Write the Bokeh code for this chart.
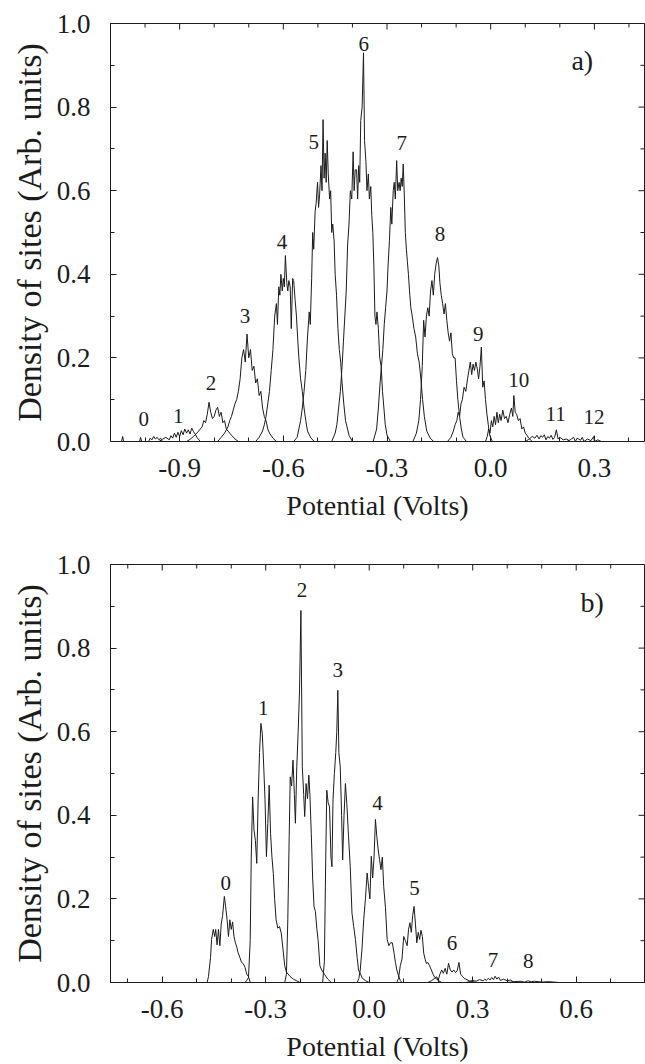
from bokeh.plotting import figure
from bokeh.models import FixedTicker, PrintfTickFormatter, Range1d
from bokeh.layouts import column
from bokeh.embed import file_html
from bokeh.resources import INLINE
from bokeh.core.properties import value

FONT = "Liberation Serif"
INK = "#1c1c1c"

# ---------------- data: panel a), (potential V, density) per peak ----------------
A0 = [(-1.075, 0), (-1.068, 0), (-1.065, 0.012), (-1.062, 0), (-1.03, 0), (-1.016, 0), (-1.013, 0.01),
      (-1.01, 0), (-0.99, 0), (-0.985, 0.008), (-0.98, 0.004), (-0.975, 0.012), (-0.97, 0.006),
      (-0.965, 0.01), (-0.96, 0.004), (-0.955, 0.008), (-0.95, 0)]
A1 = [(-0.96, 0), (-0.95, 0.005), (-0.94, 0.01), (-0.93, 0.004), (-0.925, 0.014), (-0.92, 0.008),
      (-0.915, 0.02), (-0.91, 0.01), (-0.905, 0.022), (-0.90, 0.012), (-0.895, 0.026), (-0.89, 0.016),
      (-0.885, 0.03), (-0.88, 0.02), (-0.875, 0.028), (-0.87, 0.018), (-0.865, 0.032), (-0.86, 0.024),
      (-0.855, 0.018), (-0.85, 0.01), (-0.84, 0)]
A2 = [(-0.88, 0), (-0.87, 0.005), (-0.86, 0.012), (-0.85, 0.02), (-0.84, 0.03), (-0.835, 0.035),
      (-0.83, 0.05), (-0.825, 0.045), (-0.82, 0.065), (-0.815, 0.094), (-0.81, 0.07), (-0.805, 0.055),
      (-0.80, 0.06), (-0.795, 0.075), (-0.79, 0.082), (-0.785, 0.06), (-0.78, 0.07), (-0.775, 0.045),
      (-0.77, 0.05), (-0.765, 0.03), (-0.76, 0.025), (-0.75, 0.015), (-0.74, 0.006), (-0.73, 0)]
A3 = [(-0.79, 0), (-0.78, 0.01), (-0.77, 0.02), (-0.76, 0.035), (-0.755, 0.05), (-0.75, 0.06),
      (-0.745, 0.075), (-0.74, 0.09), (-0.735, 0.1), (-0.73, 0.12), (-0.725, 0.15), (-0.72, 0.2),
      (-0.715, 0.22), (-0.71, 0.19), (-0.705, 0.257), (-0.70, 0.2), (-0.695, 0.22), (-0.69, 0.17),
      (-0.685, 0.18), (-0.68, 0.14), (-0.675, 0.15), (-0.67, 0.11), (-0.665, 0.12), (-0.66, 0.08),
      (-0.655, 0.06), (-0.65, 0.05), (-0.645, 0.03), (-0.64, 0.02), (-0.63, 0.008), (-0.62, 0)]
A4 = [(-0.68, 0), (-0.67, 0.01), (-0.66, 0.025), (-0.655, 0.04), (-0.65, 0.06), (-0.645, 0.09),
      (-0.64, 0.12), (-0.635, 0.17), (-0.63, 0.22), (-0.625, 0.3), (-0.62, 0.33), (-0.617, 0.28),
      (-0.613, 0.37), (-0.61, 0.35), (-0.607, 0.4), (-0.603, 0.36), (-0.60, 0.39), (-0.597, 0.37),
      (-0.594, 0.445), (-0.59, 0.38), (-0.587, 0.36), (-0.584, 0.385), (-0.58, 0.37), (-0.577, 0.27),
      (-0.573, 0.39), (-0.57, 0.385), (-0.566, 0.34), (-0.562, 0.3), (-0.558, 0.24), (-0.555, 0.2),
      (-0.55, 0.15), (-0.545, 0.12), (-0.54, 0.08), (-0.535, 0.05), (-0.53, 0.025), (-0.52, 0.008),
      (-0.51, 0)]
A5 = [(-0.57, 0), (-0.56, 0.01), (-0.555, 0.03), (-0.55, 0.05), (-0.545, 0.08), (-0.54, 0.12),
      (-0.535, 0.17), (-0.53, 0.25), (-0.525, 0.31), (-0.522, 0.28), (-0.518, 0.39), (-0.515, 0.5),
      (-0.512, 0.46), (-0.508, 0.55), (-0.505, 0.57), (-0.501, 0.62), (-0.498, 0.56), (-0.495, 0.59),
      (-0.491, 0.66), (-0.488, 0.6), (-0.485, 0.77), (-0.482, 0.63), (-0.479, 0.69), (-0.476, 0.62),
      (-0.473, 0.72), (-0.47, 0.64), (-0.466, 0.58), (-0.463, 0.6), (-0.46, 0.5), (-0.457, 0.52),
      (-0.453, 0.48), (-0.45, 0.4), (-0.446, 0.35), (-0.442, 0.27), (-0.438, 0.22), (-0.434, 0.19),
      (-0.43, 0.14), (-0.425, 0.09), (-0.42, 0.05), (-0.41, 0.015), (-0.40, 0)]
A6 = [(-0.46, 0), (-0.45, 0.02), (-0.445, 0.04), (-0.44, 0.08), (-0.435, 0.12), (-0.43, 0.18),
      (-0.426, 0.24), (-0.422, 0.3), (-0.418, 0.36), (-0.414, 0.47), (-0.41, 0.52), (-0.406, 0.6),
      (-0.402, 0.58), (-0.398, 0.693), (-0.395, 0.6), (-0.392, 0.65), (-0.388, 0.65), (-0.385, 0.58),
      (-0.382, 0.66), (-0.379, 0.62), (-0.376, 0.768), (-0.372, 0.8), (-0.368, 0.93), (-0.365, 0.72),
      (-0.361, 0.67), (-0.358, 0.6), (-0.354, 0.64), (-0.351, 0.58), (-0.347, 0.61), (-0.344, 0.54),
      (-0.341, 0.5), (-0.338, 0.42), (-0.335, 0.3), (-0.332, 0.28), (-0.329, 0.31), (-0.325, 0.27),
      (-0.321, 0.2), (-0.317, 0.18), (-0.313, 0.12), (-0.309, 0.08), (-0.305, 0.04), (-0.30, 0.015),
      (-0.29, 0)]
A7 = [(-0.34, 0), (-0.33, 0.03), (-0.325, 0.08), (-0.32, 0.14), (-0.316, 0.18), (-0.312, 0.22),
      (-0.308, 0.28), (-0.304, 0.32), (-0.30, 0.36), (-0.297, 0.42), (-0.293, 0.48), (-0.289, 0.56),
      (-0.286, 0.52), (-0.282, 0.6), (-0.279, 0.62), (-0.276, 0.58), (-0.272, 0.672), (-0.269, 0.6),
      (-0.265, 0.62), (-0.262, 0.6), (-0.259, 0.63), (-0.256, 0.61), (-0.253, 0.664), (-0.25, 0.59),
      (-0.247, 0.5), (-0.244, 0.46), (-0.241, 0.43), (-0.238, 0.4), (-0.234, 0.35), (-0.231, 0.32),
      (-0.227, 0.3), (-0.222, 0.27), (-0.217, 0.25), (-0.212, 0.21), (-0.207, 0.19), (-0.202, 0.15),
      (-0.197, 0.1), (-0.192, 0.06), (-0.185, 0.025), (-0.175, 0.008), (-0.165, 0)]
A8 = [(-0.225, 0), (-0.215, 0.02), (-0.208, 0.05), (-0.203, 0.1), (-0.198, 0.18), (-0.194, 0.29),
      (-0.19, 0.25), (-0.186, 0.3), (-0.182, 0.32), (-0.178, 0.3), (-0.174, 0.36), (-0.17, 0.385),
      (-0.166, 0.35), (-0.162, 0.4), (-0.158, 0.425), (-0.154, 0.44), (-0.15, 0.42), (-0.147, 0.38),
      (-0.143, 0.35), (-0.139, 0.33), (-0.135, 0.305), (-0.131, 0.33), (-0.127, 0.29), (-0.123, 0.26),
      (-0.119, 0.24), (-0.115, 0.26), (-0.111, 0.21), (-0.107, 0.2), (-0.103, 0.2), (-0.099, 0.146),
      (-0.095, 0.1), (-0.09, 0.06), (-0.085, 0.03), (-0.08, 0.01), (-0.07, 0)]
A9 = [(-0.125, 0), (-0.115, 0.01), (-0.108, 0.025), (-0.103, 0.04), (-0.098, 0.05), (-0.094, 0.07),
      (-0.09, 0.06), (-0.086, 0.09), (-0.082, 0.1), (-0.077, 0.13), (-0.072, 0.12), (-0.067, 0.15),
      (-0.063, 0.17), (-0.059, 0.19), (-0.055, 0.16), (-0.051, 0.185), (-0.047, 0.17), (-0.043, 0.19),
      (-0.039, 0.175), (-0.035, 0.15), (-0.031, 0.18), (-0.027, 0.226), (-0.023, 0.13), (-0.019, 0.145),
      (-0.015, 0.1), (-0.011, 0.066), (-0.007, 0.04), (-0.003, 0.015), (0.005, 0)]
A10 = [(-0.015, 0), (-0.01, 0.012), (-0.006, 0.03), (-0.002, 0.02), (0.002, 0.05), (0.006, 0.035),
       (0.01, 0.06), (0.014, 0.04), (0.018, 0.07), (0.022, 0.045), (0.026, 0.065), (0.03, 0.05),
       (0.035, 0.075), (0.04, 0.055), (0.045, 0.06), (0.05, 0.045), (0.055, 0.065), (0.06, 0.08),
       (0.064, 0.06), (0.067, 0.11), (0.071, 0.07), (0.075, 0.065), (0.08, 0.05), (0.085, 0.055),
       (0.09, 0.03), (0.095, 0.035), (0.10, 0.02), (0.105, 0.015), (0.11, 0.008), (0.12, 0)]
A11 = [(0.10, 0), (0.11, 0.005), (0.12, 0.012), (0.128, 0.008), (0.134, 0.015), (0.14, 0.006),
       (0.145, 0.014), (0.15, 0.01), (0.155, 0.016), (0.16, 0.004), (0.165, 0.012), (0.17, 0.008),
       (0.175, 0.015), (0.18, 0.005), (0.185, 0.01), (0.19, 0.028), (0.195, 0.006), (0.20, 0.01),
       (0.21, 0.004), (0.22, 0.006), (0.23, 0)]
A12 = [(0.22, 0), (0.23, 0.004), (0.24, 0.01), (0.245, 0), (0.25, 0.008), (0.26, 0.003), (0.265, 0.01),
       (0.27, 0), (0.28, 0.006), (0.29, 0.002), (0.298, 0.012), (0.30, 0), (0.31, 0.004), (0.32, 0)]

A_LABELS = ["0", "1", "2", "3", "4", "5", "6", "7", "8", "9", "10", "11", "12"]
A_LABEL_X = [-1.004, -0.904, -0.809, -0.711, -0.604, -0.512, -0.367, -0.257, -0.147, -0.036, 0.081, 0.188, 0.299]
A_LABEL_Y = [0.054, 0.062, 0.139, 0.301, 0.477, 0.716, 0.952, 0.713, 0.497, 0.258, 0.148, 0.066, 0.058]

# ---------------- data: panel b) ----------------
B0 = [(-0.47, 0), (-0.466, 0.014), (-0.46, 0.06), (-0.457, 0.103), (-0.452, 0.127), (-0.448, 0.11),
      (-0.445, 0.127), (-0.441, 0.09), (-0.437, 0.127), (-0.433, 0.088), (-0.429, 0.14), (-0.425, 0.16),
      (-0.42, 0.206), (-0.416, 0.18), (-0.412, 0.15), (-0.408, 0.11), (-0.404, 0.15), (-0.40, 0.127),
      (-0.396, 0.145), (-0.392, 0.11), (-0.388, 0.095), (-0.384, 0.085), (-0.38, 0.071), (-0.375, 0.06),
      (-0.37, 0.048), (-0.365, 0.045), (-0.36, 0.036), (-0.355, 0.02), (-0.35, 0.014), (-0.345, 0)]
B1 = [(-0.36, 0), (-0.355, 0.005), (-0.35, 0.012), (-0.345, 0.1), (-0.342, 0.3), (-0.338, 0.444),
      (-0.334, 0.365), (-0.33, 0.34), (-0.326, 0.285), (-0.322, 0.437), (-0.318, 0.55), (-0.314, 0.62),
      (-0.31, 0.596), (-0.306, 0.52), (-0.302, 0.437), (-0.298, 0.301), (-0.294, 0.38), (-0.29, 0.472),
      (-0.286, 0.357), (-0.282, 0.3), (-0.278, 0.261), (-0.274, 0.198), (-0.27, 0.15), (-0.265, 0.13),
      (-0.26, 0.134), (-0.255, 0.118), (-0.25, 0.08), (-0.245, 0.04), (-0.24, 0.025), (-0.23, 0.015),
      (-0.22, 0.008), (-0.21, 0.004), (-0.20, 0)]
B2 = [(-0.245, 0), (-0.24, 0.02), (-0.236, 0.15), (-0.232, 0.35), (-0.229, 0.492), (-0.225, 0.47),
      (-0.221, 0.532), (-0.217, 0.45), (-0.214, 0.381), (-0.21, 0.516), (-0.206, 0.6), (-0.202, 0.7),
      (-0.198, 0.89), (-0.194, 0.516), (-0.19, 0.45), (-0.187, 0.397), (-0.183, 0.476), (-0.179, 0.44),
      (-0.175, 0.496), (-0.172, 0.45), (-0.168, 0.357), (-0.164, 0.25), (-0.16, 0.182), (-0.156, 0.17),
      (-0.152, 0.13), (-0.148, 0.1), (-0.143, 0.04), (-0.138, 0.03), (-0.13, 0.02), (-0.12, 0.008),
      (-0.11, 0)]
B3 = [(-0.135, 0), (-0.13, 0.05), (-0.126, 0.3), (-0.123, 0.46), (-0.119, 0.43), (-0.115, 0.42),
      (-0.111, 0.3), (-0.108, 0.277), (-0.105, 0.437), (-0.101, 0.5), (-0.097, 0.55), (-0.094, 0.6),
      (-0.091, 0.699), (-0.088, 0.55), (-0.084, 0.516), (-0.08, 0.4), (-0.077, 0.293), (-0.073, 0.4),
      (-0.069, 0.476), (-0.065, 0.428), (-0.06, 0.35), (-0.055, 0.277), (-0.05, 0.166), (-0.045, 0.134),
      (-0.04, 0.103), (-0.035, 0.06), (-0.031, 0.03), (-0.025, 0.02), (-0.02, 0.01), (-0.01, 0.004),
      (0.0, 0)]
B4 = [(-0.035, 0), (-0.03, 0.01), (-0.026, 0.03), (-0.021, 0.08), (-0.016, 0.15), (-0.011, 0.2),
      (-0.006, 0.262), (-0.002, 0.23), (0.002, 0.2), (0.006, 0.302), (0.01, 0.25), (0.014, 0.3),
      (0.018, 0.39), (0.022, 0.35), (0.026, 0.317), (0.03, 0.294), (0.034, 0.27), (0.038, 0.3),
      (0.042, 0.23), (0.047, 0.18), (0.052, 0.103), (0.057, 0.088), (0.062, 0.095), (0.067, 0.095),
      (0.072, 0.07), (0.076, 0.048), (0.08, 0.03), (0.085, 0.016), (0.09, 0.005), (0.095, 0)]
B5 = [(0.08, 0), (0.085, 0.01), (0.09, 0.04), (0.095, 0.056), (0.1, 0.11), (0.105, 0.1), (0.11, 0.088),
      (0.114, 0.127), (0.118, 0.143), (0.122, 0.12), (0.126, 0.16), (0.13, 0.182), (0.134, 0.14),
      (0.138, 0.095), (0.142, 0.12), (0.146, 0.103), (0.15, 0.125), (0.154, 0.11), (0.158, 0.07),
      (0.162, 0.056), (0.166, 0.045), (0.17, 0.048), (0.175, 0.04), (0.18, 0.03), (0.185, 0.02),
      (0.19, 0.012), (0.2, 0.005), (0.21, 0)]
B6 = [(0.17, 0), (0.18, 0.004), (0.19, 0.01), (0.195, 0.014), (0.2, 0.006), (0.205, 0.02), (0.21, 0.03),
      (0.215, 0.022), (0.22, 0.034), (0.225, 0.02), (0.23, 0.046), (0.235, 0.03), (0.24, 0.025),
      (0.245, 0.03), (0.25, 0.024), (0.255, 0.028), (0.26, 0.048), (0.265, 0.02), (0.27, 0.015),
      (0.275, 0.01), (0.28, 0.008), (0.29, 0.004), (0.30, 0.002), (0.31, 0)]
B7 = [(0.28, 0), (0.29, 0.002), (0.30, 0.005), (0.31, 0.003), (0.32, 0.007), (0.33, 0.004), (0.335, 0.008),
      (0.34, 0.005), (0.345, 0.01), (0.35, 0.006), (0.355, 0.012), (0.36, 0.007), (0.365, 0.015),
      (0.37, 0.008), (0.375, 0.013), (0.38, 0.005), (0.39, 0.008), (0.40, 0.004), (0.41, 0.006), (0.42, 0)]
B8 = [(0.40, 0), (0.42, 0.002), (0.44, 0.003), (0.45, 0.001), (0.46, 0.004), (0.47, 0.002), (0.48, 0.003),
      (0.50, 0.001), (0.52, 0.002), (0.55, 0)]

B_LABELS = ["0", "1", "2", "3", "4", "5", "6", "7", "8"]
B_LABEL_X = [-0.416, -0.307, -0.195, -0.091, 0.024, 0.131, 0.24, 0.359, 0.461]
B_LABEL_Y = [0.238, 0.656, 0.938, 0.747, 0.429, 0.226, 0.095, 0.055, 0.051]

A_X_MAJOR = [-0.9, -0.6, -0.3, 0.0, 0.3]
A_X_MINOR = [-1.0, -0.8, -0.7, -0.5, -0.4, -0.2, -0.1, 0.1, 0.2, 0.4]
B_X_MAJOR = [-0.6, -0.3, 0.0, 0.3, 0.6]
B_X_MINOR = [-0.7, -0.5, -0.4, -0.2, -0.1, 0.1, 0.2, 0.4, 0.5, 0.7]
Y_MAJOR = [0.0, 0.2, 0.4, 0.6, 0.8, 1.0]
Y_MINOR = [0.1, 0.3, 0.5, 0.7, 0.9]

A_PEAKS = [A0, A1, A2, A3, A4, A5, A6, A7, A8, A9, A10, A11, A12]
B_PEAKS = [B0, B1, B2, B3, B4, B5, B6, B7, B8]

FRAME_W = 534   # px, plot-area width
FRAME_H = 418   # px, plot-area height
MAJ_LEN = 6     # px, tick length
MIN_LEN = 4


def style_ticks(ax):
    ax.major_tick_in = MAJ_LEN
    ax.major_tick_out = 0
    ax.minor_tick_in = MIN_LEN
    ax.minor_tick_out = 0
    ax.axis_line_color = INK
    ax.major_tick_line_color = INK
    ax.minor_tick_line_color = INK


def build(xr, x_major, x_minor, h, top, bottom, peaks, labels, lx, ly, tag, tx, ty):
    p = figure(width=645, height=h, x_range=Range1d(*xr), y_range=Range1d(0, 1.0),
               output_backend="svg", toolbar_location=None,
               min_border_left=110, min_border_right=1, min_border_top=top, min_border_bottom=bottom,
               x_axis_label="Potential (Volts)", y_axis_label="Density of sites (Arb. units)")
    p.grid.visible = False
    p.outline_line_color = INK
    p.outline_line_width = 1
    p.background_fill_color = "white"
    p.border_fill_color = "white"
    xt = FixedTicker(ticks=x_major, minor_ticks=x_minor)
    yt = FixedTicker(ticks=Y_MAJOR, minor_ticks=Y_MINOR)
    fmt = PrintfTickFormatter(format="%.1f")
    for ax, t in ((p.xaxis[0], xt), (p.yaxis[0], yt)):
        ax.ticker = t
        ax.formatter = fmt
        style_ticks(ax)
        ax.major_label_text_font = FONT
        ax.major_label_text_font_size = "27px"
        ax.major_label_text_color = INK
        ax.axis_label_text_font = FONT
        ax.axis_label_text_font_style = "normal"
        ax.axis_label_text_color = INK
    p.xaxis[0].major_label_standoff = 17
    p.xaxis[0].axis_label_standoff = 10
    p.xaxis[0].axis_label_text_font_size = "28px"
    p.yaxis[0].major_label_standoff = 20
    p.yaxis[0].axis_label_standoff = 6
    p.yaxis[0].axis_label_text_font_size = "34px"

    # inward ticks on the top and right frame edges (no labels there)
    xspan = xr[1] - xr[0]
    dy_maj = MAJ_LEN / FRAME_H
    dy_min = MIN_LEN / FRAME_H
    dx_maj = MAJ_LEN * xspan / FRAME_W
    dx_min = MIN_LEN * xspan / FRAME_W
    p.segment(x0=x_major, y0=[1.0] * len(x_major), x1=x_major, y1=[1.0 - dy_maj] * len(x_major),
              line_color=INK, line_width=1)
    p.segment(x0=x_minor, y0=[1.0] * len(x_minor), x1=x_minor, y1=[1.0 - dy_min] * len(x_minor),
              line_color=INK, line_width=1)
    p.segment(x0=[xr[1]] * len(Y_MAJOR), y0=Y_MAJOR, x1=[xr[1] - dx_maj] * len(Y_MAJOR), y1=Y_MAJOR,
              line_color=INK, line_width=1)
    p.segment(x0=[xr[1]] * len(Y_MINOR), y0=Y_MINOR, x1=[xr[1] - dx_min] * len(Y_MINOR), y1=Y_MINOR,
              line_color=INK, line_width=1)

    for pk in peaks:
        xs = [q[0] for q in pk]
        ys = [q[1] for q in pk]
        p.line(xs, ys, line_color=INK, line_width=1)

    p.text(x=lx, y=ly, text=labels, text_font=value(FONT), text_font_size="21px",
           text_align="center", text_baseline="middle", text_color=INK)
    p.text(x=[tx], y=[ty], text=[tag], text_font=value(FONT), text_font_size="28px",
           text_align="center", text_baseline="middle", text_color=INK)
    return p


p1 = build((-1.1, 0.445), A_X_MAJOR, A_X_MINOR, 530, 23, 89, A_PEAKS,
           A_LABELS, A_LABEL_X, A_LABEL_Y, "a)", 0.265, 0.911)
p2 = build((-0.75, 0.798), B_X_MAJOR, B_X_MINOR, 534, 34, 81, B_PEAKS,
           B_LABELS, B_LABEL_X, B_LABEL_Y, "b)", 0.646, 0.91)

layout = column(p1, p2)
open("out.html", "w").write(file_html(layout, INLINE))
